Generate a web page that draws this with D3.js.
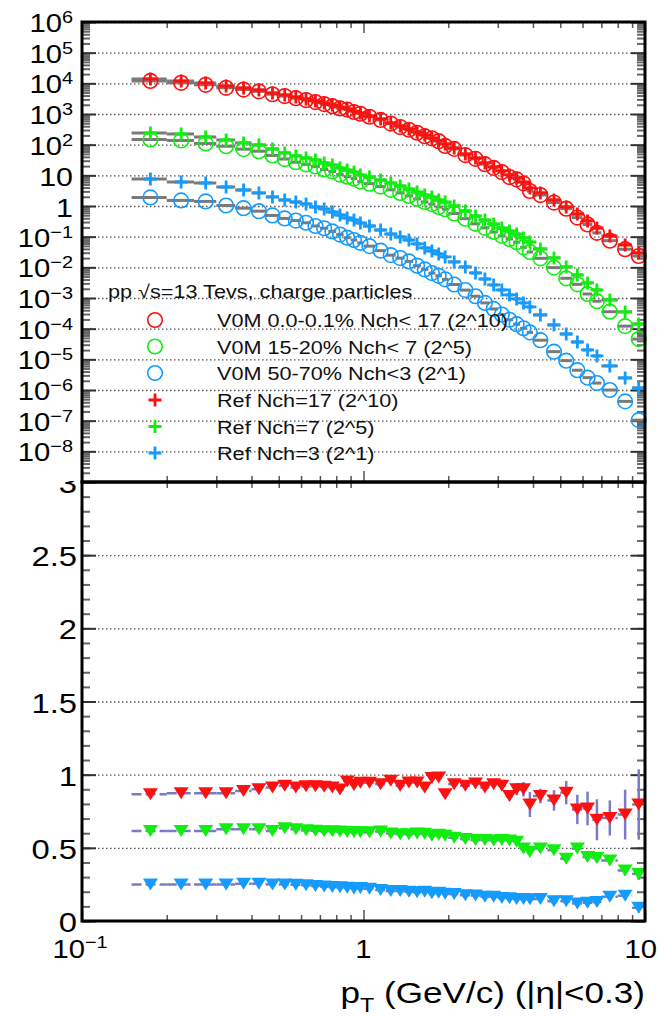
<!DOCTYPE html>
<html>
<head>
<meta charset="utf-8">
<script src="https://cdnjs.cloudflare.com/ajax/libs/d3/7.8.5/d3.min.js"></script>
<style>
	body { margin: 0; background: #fff; }
	svg { display: block; font-family: "Liberation Sans", Arial, Helvetica, sans-serif; }
</style>
</head>
<body>
<div id="svg-container"></div>
<script>




// DATA
// pT bins (GeV/c)
const PT_EDGES = [0.15, 0.2, 0.25, 0.3, 0.35, 0.4, 0.45, 0.5, 0.55, 0.6, 0.65, 0.7, 0.75, 0.8, 0.85, 0.9, 0.95, 1.0,
	1.1, 1.2, 1.3, 1.4, 1.5, 1.6, 1.7, 1.8, 1.9, 2.0, 2.2, 2.4, 2.6, 2.8, 3.0, 3.2, 3.4, 3.6, 3.8, 4.0,
	4.5, 5.0, 5.5, 6.0, 6.5, 7.0, 8.0, 9.0, 10.0];
const PT = [0.175, 0.225, 0.275, 0.325, 0.375, 0.425, 0.475, 0.525, 0.575, 0.625, 0.675, 0.725, 0.775, 0.825, 0.875, 0.925, 0.975,
	1.05, 1.15, 1.25, 1.35, 1.45, 1.55, 1.65, 1.75, 1.85, 1.95, 2.1, 2.3, 2.5, 2.7, 2.9, 3.1, 3.3, 3.5, 3.7, 3.9,
	4.25, 4.75, 5.25, 5.75, 6.25, 6.75, 7.5, 8.5, 9.5];

// spectra, scaled
const V0M_0_01 = [11990, 10410, 8960, 7140, 6270, 5460, 4410, 3850, 3270, 2840, 2450, 2100, 1800, 1520, 1390, 1160, 1020,
	814, 642, 488, 375, 307, 245, 189, 161, 129.5, 90.9, 72.9, 45.9, 34.6, 23.1, 17.5, 12.8, 8.80, 7.38, 5.46, 3.08,
	2.27, 1.29, 0.815, 0.418, 0.250, 0.133, 0.0739, 0.0390, 0.0234];
const V0M_15_20 = [147.6, 137.1, 109.5, 89.0, 71.5, 61.3, 44.5, 34.0, 26.8, 22.8, 19.5, 15.5, 13.4, 10.6, 9.06, 7.84, 6.24,
	5.35, 4.31, 3.37, 2.67, 2.13, 1.71, 1.36, 1.15, 0.926, 0.787, 0.569, 0.386, 0.262, 0.194, 0.142, 0.106, 0.0842, 0.0661, 0.0448, 0.0317,
	0.0197, 0.00978, 0.00439, 0.00279, 0.00135, 0.000787, 0.000357, 0.000121, 0.0000457];
const V0M_50_70 = [1.90, 1.52, 1.41, 1.04, 0.849, 0.678, 0.493, 0.393, 0.335, 0.284, 0.223, 0.188, 0.148, 0.117, 0.0926, 0.0777, 0.0628,
	0.0491, 0.0350, 0.0250, 0.0200, 0.0156, 0.0113, 0.00856, 0.00648, 0.00527, 0.00405, 0.00276, 0.00181, 0.00114, 0.000692, 0.000439, 0.000289, 0.000195, 0.000140, 0.000103, 0.0000756,
	0.0000420, 0.0000178, 0.00000906, 0.00000442, 0.00000253, 0.00000168, 0.00000100, 0.000000425, 0.000000104];
const REF_NCH17 = [13850, 11920, 10260, 8180, 7050, 6070, 4840, 4170, 3590, 3090, 2660, 2290, 1970, 1690, 1460, 1250, 1080,
	861, 687, 509, 406, 324, 259, 207, 165, 132, 105, 78, 49.7, 36.8, 25.3, 18.7, 13.9, 10.3, 8.2, 6.07, 3.87,
	2.66, 1.57, 0.929, 0.549, 0.325, 0.192, 0.105, 0.0536, 0.0294];
const REF_NCH7 = [240, 223, 178, 142, 114, 97.7, 72.3, 53.6, 42.8, 36.8, 31.7, 25.3, 21.8, 17.4, 14.9, 12.9, 10.3,
	8.83, 7.05, 5.63, 4.50, 3.59, 2.86, 2.29, 1.97, 1.57, 1.35, 1.00, 0.689, 0.473, 0.350, 0.259, 0.192, 0.153, 0.122, 0.0906, 0.0671,
	0.0397, 0.0202, 0.0103, 0.00564, 0.00309, 0.00183, 0.000863, 0.000351, 0.000142];
const REF_NCH3 = [7.60, 6.07, 5.63, 4.17, 3.33, 2.66, 1.97, 1.57, 1.35, 1.16, 0.929, 0.800, 0.638, 0.509, 0.406, 0.350, 0.279,
	0.223, 0.165, 0.122, 0.0977, 0.0780, 0.0578, 0.0428, 0.0341, 0.0273, 0.0218, 0.0150, 0.0103, 0.00655, 0.00417, 0.00266, 0.00183, 0.00126, 0.000931, 0.000689, 0.000511,
	0.000280, 0.000132, 0.0000671, 0.0000368, 0.0000202, 0.0000129, 0.00000608, 0.00000247, 0.00000116];

// ratios V0M / Ref
const RATIO_RED = [0.866, 0.873, 0.873, 0.873, 0.889, 0.900, 0.912, 0.924, 0.912, 0.920, 0.920, 0.917, 0.912, 0.898, 0.954, 0.930, 0.945,
	0.945, 0.935, 0.958, 0.924, 0.947, 0.947, 0.912, 0.978, 0.981, 0.866, 0.935, 0.924, 0.940, 0.912, 0.935, 0.924, 0.854, 0.900, 0.900, 0.796,
	0.854, 0.824, 0.877, 0.762, 0.769, 0.692, 0.704, 0.727, 0.796];
const RATIO_GREEN = [0.615, 0.615, 0.615, 0.627, 0.627, 0.627, 0.615, 0.634, 0.627, 0.620, 0.616, 0.613, 0.613, 0.611, 0.608, 0.608, 0.606,
	0.606, 0.611, 0.598, 0.593, 0.593, 0.598, 0.596, 0.583, 0.590, 0.583, 0.569, 0.560, 0.553, 0.553, 0.550, 0.553, 0.550, 0.542, 0.495, 0.472,
	0.495, 0.484, 0.426, 0.495, 0.437, 0.430, 0.414, 0.345, 0.322];
const RATIO_BLUE = [0.250, 0.250, 0.250, 0.250, 0.255, 0.255, 0.250, 0.250, 0.248, 0.245, 0.240, 0.235, 0.232, 0.230, 0.228, 0.222, 0.225,
	0.220, 0.212, 0.205, 0.205, 0.200, 0.196, 0.200, 0.190, 0.193, 0.186, 0.184, 0.176, 0.174, 0.166, 0.165, 0.158, 0.155, 0.150, 0.150, 0.148,
	0.150, 0.135, 0.135, 0.120, 0.125, 0.130, 0.165, 0.172, 0.090];
const RATIO_RED_ERR = [0.006, 0.006, 0.006, 0.006, 0.006, 0.006, 0.006, 0.006, 0.006, 0.006, 0.007, 0.007, 0.007, 0.007, 0.008, 0.008, 0.008,
	0.008, 0.009, 0.009, 0.010, 0.010, 0.011, 0.012, 0.012, 0.013, 0.014, 0.015, 0.017, 0.019, 0.021, 0.024, 0.027, 0.030, 0.040, 0.050, 0.085,
	0.050, 0.070, 0.080, 0.100, 0.115, 0.140, 0.120, 0.170, 0.240];
const RATIO_GREEN_ERR = [0.004, 0.004, 0.004, 0.004, 0.004, 0.004, 0.004, 0.004, 0.004, 0.004, 0.004, 0.004, 0.004, 0.004, 0.004, 0.004, 0.004,
	0.004, 0.004, 0.004, 0.005, 0.005, 0.005, 0.006, 0.006, 0.006, 0.007, 0.007, 0.008, 0.008, 0.009, 0.010, 0.011, 0.012, 0.013, 0.014, 0.016,
	0.018, 0.020, 0.022, 0.025, 0.028, 0.030, 0.030, 0.035, 0.040];
const RATIO_BLUE_ERR = [0.003, 0.003, 0.003, 0.003, 0.003, 0.003, 0.003, 0.003, 0.003, 0.003, 0.003, 0.003, 0.003, 0.003, 0.003, 0.003, 0.003,
	0.003, 0.003, 0.003, 0.004, 0.004, 0.004, 0.004, 0.005, 0.005, 0.005, 0.006, 0.006, 0.007, 0.007, 0.008, 0.008, 0.009, 0.010, 0.011, 0.012,
	0.013, 0.015, 0.017, 0.019, 0.021, 0.023, 0.025, 0.028, 0.032];

// ticks and labels
const Y_TOP_EXP = [6, 5, 4, 3, 2, 1, 0, -1, -2, -3, -4, -5, -6, -7, -8];
const Y_BOT_TICKS = [0, 0.5, 1, 1.5, 2, 2.5, 3];
const Y_BOT_LABELS = ["0", "0.5", "1", "1.5", "2", "2.5", "3"];
const X_MAJOR = [0.1, 1, 10];
const X_MINOR = [0.2, 0.3, 0.4, 0.5, 0.6, 0.7, 0.8, 0.9, 2, 3, 4, 5, 6, 7, 8, 9];

// legend
const LEGEND_TITLE = "pp \u221As=13 Tevs, charge particles";
const LEGEND_LABELS = ["V0M 0.0-0.1% Nch< 17 (2^10)", "V0M 15-20% Nch< 7 (2^5)", "V0M 50-70% Nch<3 (2^1)",
	"Ref Nch=17 (2^10)", "Ref Nch=7 (2^5)", "Ref Nch=3 (2^1)"];




// STYLE
const W = 658, H = 1016;
const X0 = 82, X1 = 645, TOP = 22, MID = 482, BOT = 921;
const SX = 1.17; // text looks stretched horizontally
const RED = "#ff1010", GREEN = "#10ee10", BLUE = "#139bff";
const RATIO_LINE = "#7b7bc4";
const GRAY_BAR = "#7a7a7a";




// helpers
const addText = (parent, px, py, size, anchor) => parent.append("text")
	.attr("transform", `translate(${px},${py}) scale(${SX},1)`)
	.attr("text-anchor", anchor)
	.attr("font-size", size)
	.attr("fill", "#000");

const tickSet = (svg, axis, tr, color, width) => {
	const g = svg.append("g").attr("transform", tr).call(axis.tickFormat(() => ""));
	g.select(".domain").remove();
	g.selectAll(".tick text").remove();
	g.selectAll(".tick line").attr("stroke", color).attr("stroke-width", width);
	return g;
};

const gridSet = (svg, axis, tr) => {
	const g = tickSet(svg, axis, tr, "#555", 1.4);
	g.selectAll(".tick line").attr("stroke-dasharray", "1.5,2.5");
	return g;
};

const crossPath = "M-6.5,0H6.5M0,-6.5V6.5";
const triPath = "M-7.5,-6L7.5,-6L0,6Z";




// DRAW
function drawChart() {
	const svg = d3.select("#svg-container").append("svg")
		.attr("width", W)
		.attr("height", H);
	svg.append("rect").attr("width", W).attr("height", H).attr("fill", "#fff");

	// scales
	const x = d3.scaleLog().domain([0.1, 10]).range([X0, X1]);
	const yTop = d3.scaleLog().domain([1e-9, 1e6]).range([MID, TOP]);
	const yBot = d3.scaleLinear().domain([0, 3]).range([BOT, MID]);

	const yMajor = Y_TOP_EXP.map(e => Math.pow(10, e));
	const yMinor = [];
	d3.range(-9, 6).forEach(e => d3.range(2, 10).forEach(m => yMinor.push(m * Math.pow(10, e))));
	const yBotMinor = d3.range(0, 31).map(i => i / 10);

	// grids
	gridSet(svg, d3.axisRight(yTop).tickValues(yMajor).tickSize(X1 - X0), `translate(${X0},0)`);
	gridSet(svg, d3.axisRight(yBot).tickValues(Y_BOT_TICKS).tickSize(X1 - X0), `translate(${X0},0)`);

	// upper pad ticks
	tickSet(svg, d3.axisRight(yTop).tickValues(yMinor).tickSize(8), `translate(${X0},0)`, "#666", 2);
	tickSet(svg, d3.axisRight(yTop).tickValues(yMajor).tickSize(14), `translate(${X0},0)`, "#333", 2);
	tickSet(svg, d3.axisLeft(yTop).tickValues(yMinor).tickSize(8), `translate(${X1},0)`, "#666", 2);
	tickSet(svg, d3.axisLeft(yTop).tickValues(yMajor).tickSize(14), `translate(${X1},0)`, "#333", 2);
	tickSet(svg, d3.axisBottom(x).tickValues(X_MINOR).tickSize(6), `translate(0,${TOP})`, "#555", 1.5);
	tickSet(svg, d3.axisBottom(x).tickValues(X_MAJOR).tickSize(11), `translate(0,${TOP})`, "#555", 1.5);
	tickSet(svg, d3.axisTop(x).tickValues(X_MINOR).tickSize(6), `translate(0,${MID})`, "#555", 1.5);
	tickSet(svg, d3.axisTop(x).tickValues(X_MAJOR).tickSize(11), `translate(0,${MID})`, "#555", 1.5);

	// lower pad ticks
	tickSet(svg, d3.axisRight(yBot).tickValues(yBotMinor).tickSize(8), `translate(${X0},0)`, "#666", 2);
	tickSet(svg, d3.axisRight(yBot).tickValues(Y_BOT_TICKS).tickSize(14), `translate(${X0},0)`, "#333", 2);
	tickSet(svg, d3.axisLeft(yBot).tickValues(yBotMinor).tickSize(8), `translate(${X1},0)`, "#666", 2);
	tickSet(svg, d3.axisLeft(yBot).tickValues(Y_BOT_TICKS).tickSize(14), `translate(${X1},0)`, "#333", 2);
	tickSet(svg, d3.axisBottom(x).tickValues(X_MINOR).tickSize(6), `translate(0,${MID})`, "#555", 1.5);
	tickSet(svg, d3.axisTop(x).tickValues(X_MINOR).tickSize(6), `translate(0,${BOT})`, "#555", 1.5);
	tickSet(svg, d3.axisTop(x).tickValues(X_MAJOR).tickSize(11), `translate(0,${BOT})`, "#555", 1.5);

	// spectra
	const spectra = [
		{ v: V0M_0_01, c: RED, m: "circle" },
		{ v: V0M_15_20, c: GREEN, m: "circle" },
		{ v: V0M_50_70, c: BLUE, m: "circle" },
		{ v: REF_NCH17, c: RED, m: "cross" },
		{ v: REF_NCH7, c: GREEN, m: "cross" },
		{ v: REF_NCH3, c: BLUE, m: "cross" }
	];
	const upper = svg.append("g");
	spectra.forEach(s => {
		upper.append("g").selectAll("line")
			.data(s.v)
			.enter()
			.append("line")
			.attr("x1", (d, i) => x(PT_EDGES[i]))
			.attr("x2", (d, i) => x(PT_EDGES[i + 1]))
			.attr("y1", d => yTop(d))
			.attr("y2", d => yTop(d))
			.attr("stroke", GRAY_BAR)
			.attr("stroke-width", 3);
	});
	spectra.forEach(s => {
		const g = upper.append("g");
		if (s.m === "circle") {
			g.selectAll("circle")
				.data(s.v)
				.enter()
				.append("circle")
				.attr("cx", (d, i) => x(PT[i]))
				.attr("cy", d => yTop(d))
				.attr("r", 7.3)
				.attr("fill", "none")
				.attr("stroke", s.c)
				.attr("stroke-width", 1.6);
		} else {
			g.selectAll("path")
				.data(s.v)
				.enter()
				.append("path")
				.attr("d", crossPath)
				.attr("transform", (d, i) => `translate(${x(PT[i])},${yTop(d)})`)
				.attr("fill", "none")
				.attr("stroke", s.c)
				.attr("stroke-width", 2.8);
		}
	});

	// ratios
	const ratios = [
		{ v: RATIO_RED, e: RATIO_RED_ERR, c: RED },
		{ v: RATIO_GREEN, e: RATIO_GREEN_ERR, c: GREEN },
		{ v: RATIO_BLUE, e: RATIO_BLUE_ERR, c: BLUE }
	];
	const lower = svg.append("g");
	ratios.forEach(r => {
		const g = lower.append("g");
		g.selectAll("line.xerr")
			.data(r.v)
			.enter()
			.append("line")
			.attr("class", "xerr")
			.attr("x1", (d, i) => x(PT_EDGES[i]))
			.attr("x2", (d, i) => x(PT_EDGES[i + 1]))
			.attr("y1", d => yBot(d))
			.attr("y2", d => yBot(d))
			.attr("stroke", RATIO_LINE)
			.attr("stroke-width", 2.5)
			.attr("stroke-dasharray", "10,4");
		g.selectAll("line.yerr")
			.data(r.v)
			.enter()
			.append("line")
			.attr("class", "yerr")
			.attr("x1", (d, i) => x(PT[i]))
			.attr("x2", (d, i) => x(PT[i]))
			.attr("y1", (d, i) => yBot(d - r.e[i]))
			.attr("y2", (d, i) => yBot(d + r.e[i]))
			.attr("stroke", RATIO_LINE)
			.attr("stroke-width", 2.5);
	});
	ratios.forEach(r => {
		lower.append("g").selectAll("path")
			.data(r.v)
			.enter()
			.append("path")
			.attr("d", triPath)
			.attr("transform", (d, i) => `translate(${x(PT[i])},${yBot(d)})`)
			.attr("fill", r.c);
	});

	// frames
	svg.append("rect")
		.attr("x", X0).attr("y", TOP).attr("width", X1 - X0).attr("height", MID - TOP)
		.attr("fill", "none").attr("stroke", "#000").attr("stroke-width", 3);
	svg.append("rect")
		.attr("x", X0).attr("y", MID).attr("width", X1 - X0).attr("height", BOT - MID)
		.attr("fill", "none").attr("stroke", "#000").attr("stroke-width", 3);

	// upper y labels
	const topLabels = svg.append("g");
	Y_TOP_EXP.forEach(e => {
		const py = yTop(Math.pow(10, e));
		if (e === 1 || e === 0) {
			addText(topLabels, 73, py + 11, 26, "end").text(e === 1 ? "10" : "1");
		} else {
			const t = addText(topLabels, 73, py + 10, 25, "end");
			t.append("tspan").text("10");
			t.append("tspan").attr("dy", -9).attr("font-size", 17).text(String(e).replace("-", "\u2212"));
		}
	});

	// lower y labels, top one is cut by upper pad
	svg.append("clipPath").attr("id", "lowclip")
		.append("rect").attr("x", 0).attr("y", MID - 1).attr("width", W).attr("height", H);
	const botLabels = svg.append("g").attr("clip-path", "url(#lowclip)");
	Y_BOT_TICKS.forEach((v, i) => {
		addText(botLabels, 77, yBot(v) + 11, 28, "end").text(Y_BOT_LABELS[i]);
	});

	// x labels
	const xl = addText(svg, x(0.1) - 2, 958, 25, "middle");
	xl.append("tspan").text("10");
	xl.append("tspan").attr("dy", -10).attr("font-size", 17).text("\u22121");
	addText(svg, x(1), 958, 25, "middle").text("1");
	addText(svg, W - 1, 958, 25, "end").text("10");

	// x title
	const title = addText(svg, X1, 1003, 30, "end");
	title.append("tspan").text("p");
	title.append("tspan").attr("dy", 9).attr("font-size", 20).text("T");
	title.append("tspan").attr("dy", -9).text(" (GeV/c) (|\u03B7|<0.3)");

	// legend
	const legend = svg.append("g");
	addText(legend, 108, 298, 18.5, "start").attr("fill", "#111").text(LEGEND_TITLE);
	const legendRows = [320, 346.5, 373, 400, 426.5, 453];
	LEGEND_LABELS.forEach((label, i) => {
		const s = spectra[i];
		const py = legendRows[i];
		if (s.m === "circle") {
			legend.append("circle").attr("cx", 155).attr("cy", py).attr("r", 7.3)
				.attr("fill", "none").attr("stroke", s.c).attr("stroke-width", 1.6);
		} else {
			legend.append("path").attr("d", crossPath).attr("transform", `translate(155,${py})`)
				.attr("fill", "none").attr("stroke", s.c).attr("stroke-width", 2.8);
		}
		addText(legend, 217, py + 7, 18.5, "start").attr("fill", "#111").text(label);
	});
}




// MAIN
document.addEventListener('DOMContentLoaded', () => {
	drawChart();
});
</script>
</body>
</html>
